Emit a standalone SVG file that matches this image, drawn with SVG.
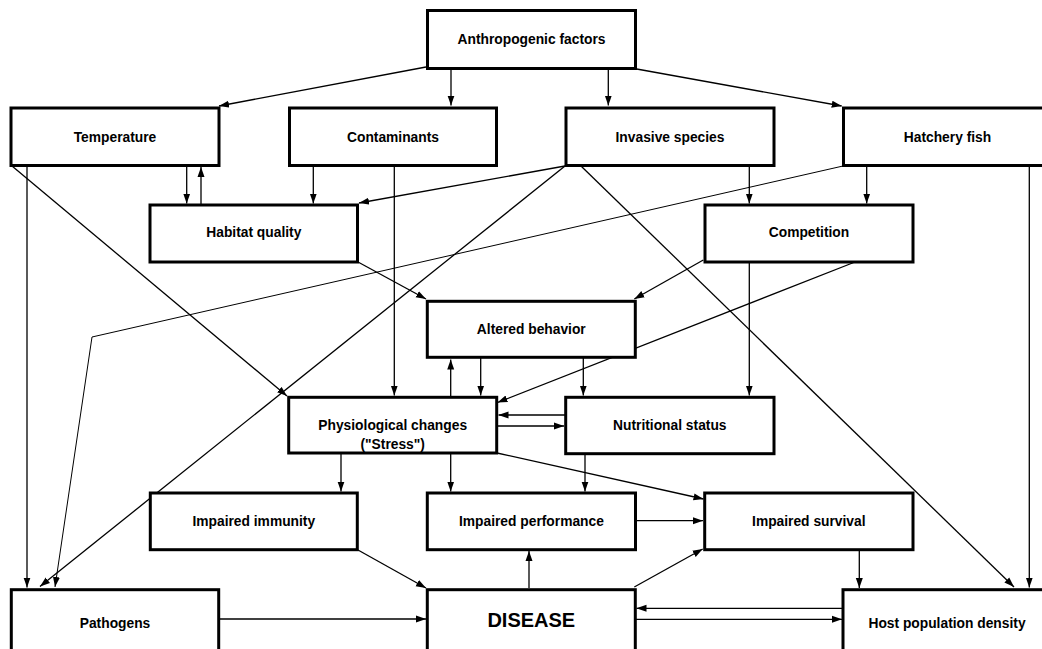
<svg xmlns="http://www.w3.org/2000/svg" width="1042" height="649" viewBox="0 0 1042 649">
<style>
.box{fill:#fff;stroke:#000;stroke-width:3}
.lbl{font-family:"Liberation Sans",Arial,sans-serif;font-weight:bold;font-size:13.8px;text-anchor:middle;fill:#000}
.big{font-size:20px}
.c{fill:none;stroke:#000;stroke-width:1.3;marker-end:url(#ah)}
.thin{stroke-width:1}
</style>
<defs>
<marker id="ah" markerUnits="userSpaceOnUse" markerWidth="10" markerHeight="8" viewBox="0 0 10 8" refX="10" refY="4" orient="auto">
<path d="M0,0.5 L10,4 L0,7.5 z" fill="#000"/>
</marker>
</defs>
<rect width="1042" height="649" fill="#fff"/>
<g id="connectors">
<line class="c" x1="426" y1="67" x2="219" y2="106"/>
<line class="c" x1="451" y1="69" x2="451" y2="105.5"/>
<line class="c" x1="608.3" y1="69" x2="608.3" y2="105.5"/>
<line class="c" x1="636.7" y1="69" x2="841.7" y2="106"/>
<line class="c" x1="186.7" y1="164" x2="186.7" y2="203.5"/>
<line class="c" x1="201" y1="205" x2="201" y2="167"/>
<line class="c" x1="313.3" y1="166" x2="313.3" y2="203.5"/>
<line class="c" x1="565" y1="166" x2="359" y2="203"/>
<line class="c" x1="394.3" y1="166" x2="394.3" y2="395.5"/>
<line class="c" x1="12" y1="166" x2="287" y2="396"/>
<line class="c" x1="27" y1="166" x2="27" y2="587.5"/>
<line class="c" x1="565" y1="166" x2="40" y2="586.5"/>
<line class="c" x1="581" y1="166" x2="1014" y2="587"/>
<line class="c" x1="749.3" y1="166" x2="749.3" y2="203.5"/>
<line class="c" x1="866.7" y1="164" x2="866.7" y2="203.5"/>
<polyline class="c thin" points="843,166 92,337 55,587"/>
<line class="c" x1="1029.3" y1="166" x2="1029.3" y2="587.5"/>
<line class="c" x1="358" y1="262" x2="426" y2="299"/>
<line class="c" x1="703.3" y1="260" x2="634.3" y2="299"/>
<line class="c" x1="855" y1="262" x2="497.5" y2="402.5"/>
<line class="c" x1="749.3" y1="262" x2="749.3" y2="395.5"/>
<line class="c" x1="583.3" y1="356" x2="583.3" y2="395.5"/>
<line class="c" x1="450.7" y1="397" x2="450.7" y2="359.5"/>
<line class="c" x1="480.7" y1="356" x2="480.7" y2="395.5"/>
<line class="c" x1="565" y1="415" x2="498.5" y2="415"/>
<line class="c" x1="497" y1="426" x2="564" y2="426"/>
<line class="c" x1="497" y1="453" x2="703.5" y2="499"/>
<line class="c" x1="341" y1="453" x2="341" y2="491.5"/>
<line class="c" x1="450.7" y1="452" x2="450.7" y2="491.5"/>
<line class="c" x1="585" y1="454" x2="585" y2="491.5"/>
<line class="c" x1="636" y1="520.7" x2="703" y2="520.7"/>
<line class="c" x1="358" y1="550" x2="426" y2="588"/>
<line class="c" x1="529" y1="588" x2="529" y2="551"/>
<line class="c" x1="634.3" y1="587" x2="702.7" y2="549"/>
<line class="c" x1="859.3" y1="551" x2="859.3" y2="588"/>
<line class="c" x1="219" y1="619" x2="426" y2="619"/>
<line class="c" x1="843" y1="608.3" x2="636.5" y2="608.3"/>
<line class="c" x1="636" y1="619.3" x2="842" y2="619.3"/>
</g>
<g id="anthropogenic"><rect class="box" x="427.5" y="10.5" width="208" height="58"/><text class="lbl" x="531.5" y="44.3">Anthropogenic factors</text></g>
<g id="temperature"><rect class="box" x="11" y="108" width="208" height="57.5"/><text class="lbl" x="115" y="141.7">Temperature</text></g>
<g id="contaminants"><rect class="box" x="289.5" y="108" width="207" height="57.5"/><text class="lbl" x="393" y="141.7">Contaminants</text></g>
<g id="invasive"><rect class="box" x="566" y="108" width="208" height="57.5"/><text class="lbl" x="670" y="141.7">Invasive species</text></g>
<g id="hatchery"><rect class="box" x="843.5" y="108" width="208" height="57.5"/><text class="lbl" x="947.5" y="141.7">Hatchery fish</text></g>
<g id="habitat"><rect class="box" x="150" y="205" width="207.5" height="57"/><text class="lbl" x="253.8" y="237">Habitat quality</text></g>
<g id="competition"><rect class="box" x="705" y="205" width="208" height="57"/><text class="lbl" x="809" y="237">Competition</text></g>
<g id="altered"><rect class="box" x="427.3" y="301.3" width="208" height="56"/><text class="lbl" x="531.3" y="334">Altered behavior</text></g>
<g id="physiological"><rect class="box" x="288.7" y="397.3" width="208" height="55.7"/><text class="lbl" x="392.7" y="430">Physiological changes</text><text class="lbl" x="392.7" y="449">("Stress")</text></g>
<g id="nutritional"><rect class="box" x="565.7" y="397.3" width="208.3" height="56.4"/><text class="lbl" x="669.8" y="430">Nutritional status</text></g>
<g id="immunity"><rect class="box" x="150.3" y="493" width="207" height="56.7"/><text class="lbl" x="253.8" y="526">Impaired immunity</text></g>
<g id="performance"><rect class="box" x="427.3" y="493" width="208.2" height="56.7"/><text class="lbl" x="531.4" y="526">Impaired performance</text></g>
<g id="survival"><rect class="box" x="704.7" y="493" width="208.3" height="56.7"/><text class="lbl" x="808.8" y="526">Impaired survival</text></g>
<g id="pathogens"><rect class="box" x="11.3" y="589.7" width="207.4" height="64"/><text class="lbl" x="115" y="628">Pathogens</text></g>
<g id="disease"><rect class="box" x="427.3" y="589.7" width="208" height="64"/><text class="lbl big" x="531.3" y="627">DISEASE</text></g>
<g id="host"><rect class="box" x="843" y="589.7" width="208" height="64"/><text class="lbl" x="947" y="628">Host population density</text></g>
</svg>
